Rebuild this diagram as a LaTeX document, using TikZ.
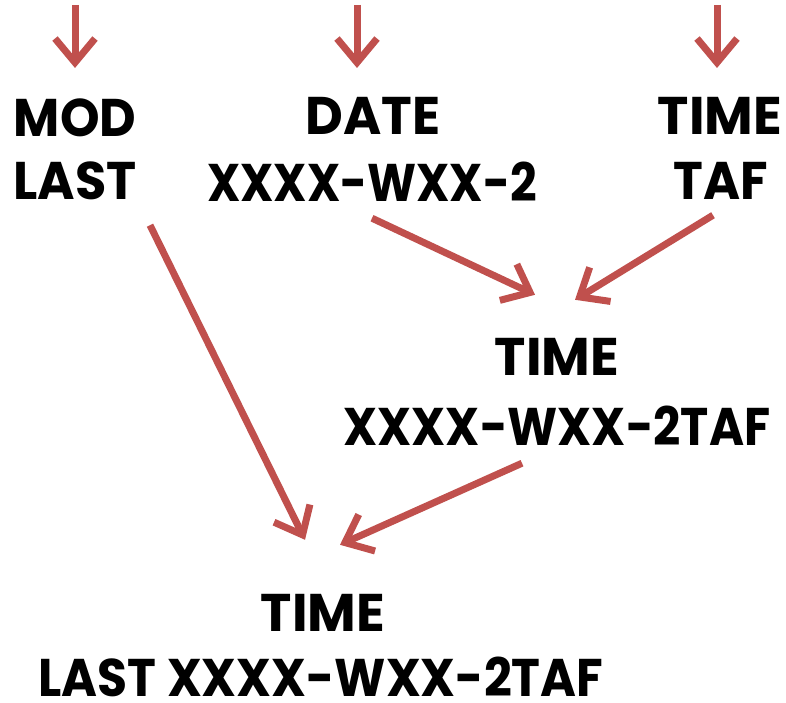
\documentclass[tikz,border=0pt]{standalone}
\usepackage{fontspec}
\setmainfont{Poppins}
\usetikzlibrary{arrows.meta,calc}
\definecolor{arr}{RGB}{192,80,77}
\newcommand{\sqz}[2]{\scalebox{#1}[1]{#2}}
\begin{document}
\begin{tikzpicture}[x=1pt,y=-1pt,
  lbl/.style={inner sep=0pt,anchor=base,text height=38pt,text depth=0pt,font=\fontsize{53}{60}\selectfont\bfseries},
  conn/.style={draw=arr,line width=7pt,-{Straight Barb[length=24pt,width=40pt]}}]
\useasboundingbox (0,0) rectangle (786,703);
\node[lbl] (mod1) at (75,137) {\sqz{0.95}{MOD}};
\node[lbl] (mod2) at (75,200) {\sqz{0.96}{LAST}};
\node[lbl] (date1) at (373,135) {\sqz{0.98}{DATE}};
\node[lbl] (date2) at (372,202) {\sqz{0.88}{XXXX-WXX-2}};
\node[lbl] (taf1) at (720,135) {TIME};
\node[lbl] (taf2) at (721,200) {\sqz{0.95}{TAF}};
\node[lbl] (mid1) at (557,375) {TIME};
\node[lbl] (mid2) at (557,445) {\sqz{0.9}{XXXX-WXX-2TAF}};
\node[lbl] (out1) at (323,631) {TIME};
\node[lbl] (out2) at (321,696) {\sqz{0.92}{LAST XXXX-WXX-2TAF}};
\coordinate (tA) at (75,5);
\coordinate (tB) at (357,5);
\coordinate (tC) at (717,5);
\draw[conn] (tA) -- ($(tA)+(0,63)$);
\draw[conn] (tB) -- ($(tB)+(0,63)$);
\draw[conn] (tC) -- ($(tC)+(0,63)$);
\draw[conn] ($(date2.south)+(0,16)$) -- ($(mid1.north)+(-22,-42)$);
\draw[conn] ($(taf2.south)+(-8,15)$) -- ($(mid1.north)+(18,-37)$);
\draw[conn] ($(mid2.south)+(-35,18)$) -- ($(out1.north)+(17,-48)$);
\draw[conn] ($(mod2.south)+(75,25)$) -- ($(out1.north)+(-18,-53)$);
\end{tikzpicture}
\end{document}
